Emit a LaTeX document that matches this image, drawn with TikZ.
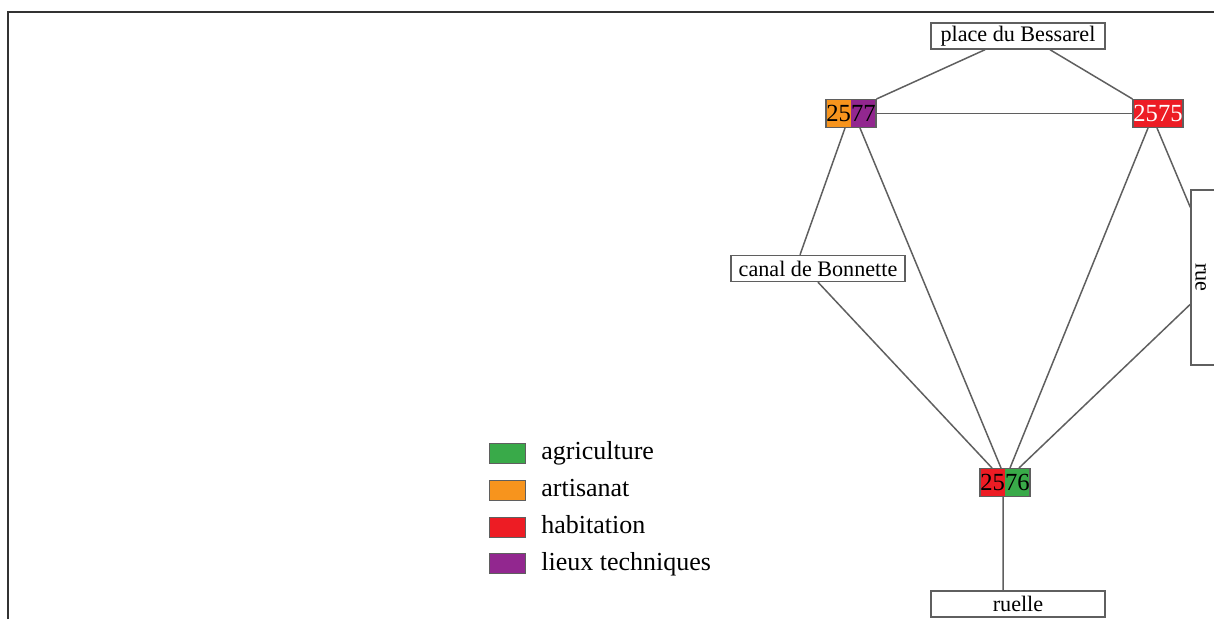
\documentclass[tikz,border=0pt]{standalone}
\usepackage{fontspec}
\setmainfont{Liberation Serif}
\usetikzlibrary{calc}

% couleurs des fonctions
\definecolor{agri}{RGB}{57,170,73}
\definecolor{arti}{RGB}{247,148,29}
\definecolor{habi}{RGB}{237,28,36}
\definecolor{tech}{RGB}{146,39,143}
\definecolor{trait}{RGB}{95,95,95}

\tikzset{
  lieu/.style={draw=trait, line width=0.8pt, fill=white, minimum width=3.48cm,
    minimum height=0.52cm, inner sep=0pt, font=\fontsize{12.6}{14}\selectfont},
  parcelle/.style 2 args={draw=trait, line width=0.6pt, minimum width=1cm,
    minimum height=0.56cm, inner sep=0pt, font=\fontsize{14}{16}\selectfont,
    path picture={
      \fill[#1] (path picture bounding box.south west) rectangle (path picture bounding box.north);
      \fill[#2] (path picture bounding box.south) rectangle (path picture bounding box.north east);}},
  lien/.style={draw=trait, line width=0.85pt},
  case/.style={draw=trait, line width=0.4pt, minimum width=0.72cm,
    minimum height=0.4cm, inner sep=0pt},
  legende/.style={anchor=base west, inner sep=0pt, font=\fontsize{14.8}{17}\selectfont}
}

\begin{document}
\begin{tikzpicture}[x=0.02cm, y=-0.02cm]
    \useasboundingbox (0,0) rectangle (1214,619);

    % Cadre
    \draw[line width=1pt, draw=black!80] (8,619) -- (8,12) -- (1214,12);

    % Lieux
    \node[lieu] (bessarel) at (1018,36) {place du Bessarel};
    \node[lieu] (canal) at (818,268.5) {canal de Bonnette};
    \node[lieu] (ruelle) at (1018,604) {ruelle};
    \node[lieu, minimum width=0.56cm, minimum height=3.5cm] (rue) at (1205,277.5) {\rotatebox{-90}{rue}\hspace*{5pt}};

    % Parcelles
    \node[parcelle={arti}{tech}] (p2577) at (851,113.5) {2577};
    \node[parcelle={habi}{habi}, text=white] (p2575) at (1158,113.5) {2575};
    \node[parcelle={habi}{agri}] (p2576) at (1005,482.5) {2576};

    % Liens
    \draw[lien] ([xshift=-0.66cm]bessarel.south) -- (p2577.north east);
    \draw[lien] ([xshift=0.64cm]bessarel.south) -- (p2575.north west);
    \draw[lien] (p2577.east) -- (p2575.west);
    \draw[lien] ([xshift=-0.12cm]p2577.south) -- ([xshift=-0.36cm]canal.north);
    \draw[lien] ([xshift=0.18cm]p2577.south) -- ([xshift=-0.08cm]p2576.north);
    \draw[lien] ([xshift=-0.2cm]p2575.south) -- ([xshift=0.1cm]p2576.north);
    \draw[lien] ([xshift=-0.02cm]p2575.south) -- ([yshift=-0.36cm]rue.north west);
    \draw[lien] (canal.south) -- ([xshift=-0.26cm]p2576.north);
    \draw[lien] ([yshift=-2.3cm]rue.north west) -- ([xshift=0.28cm]p2576.north);
    \draw[lien] ([xshift=-0.04cm]p2576.south) -- ([xshift=-0.3cm]ruelle.north);

    % Légende
    \node[case, fill=agri] (c1) at (507,453) {};
    \node[case, fill=arti] (c2) at (507,490) {};
    \node[case, fill=habi] (c3) at (507,527) {};
    \node[case, fill=tech] (c4) at (507,563) {};
    \node[legende] (l1) at (541,459) {agriculture};
    \node[legende] (l2) at (541,496) {artisanat};
    \node[legende] (l3) at (541,533) {habitation};
    \node[legende] (l4) at (541,570) {lieux techniques};
\end{tikzpicture}
\end{document}
